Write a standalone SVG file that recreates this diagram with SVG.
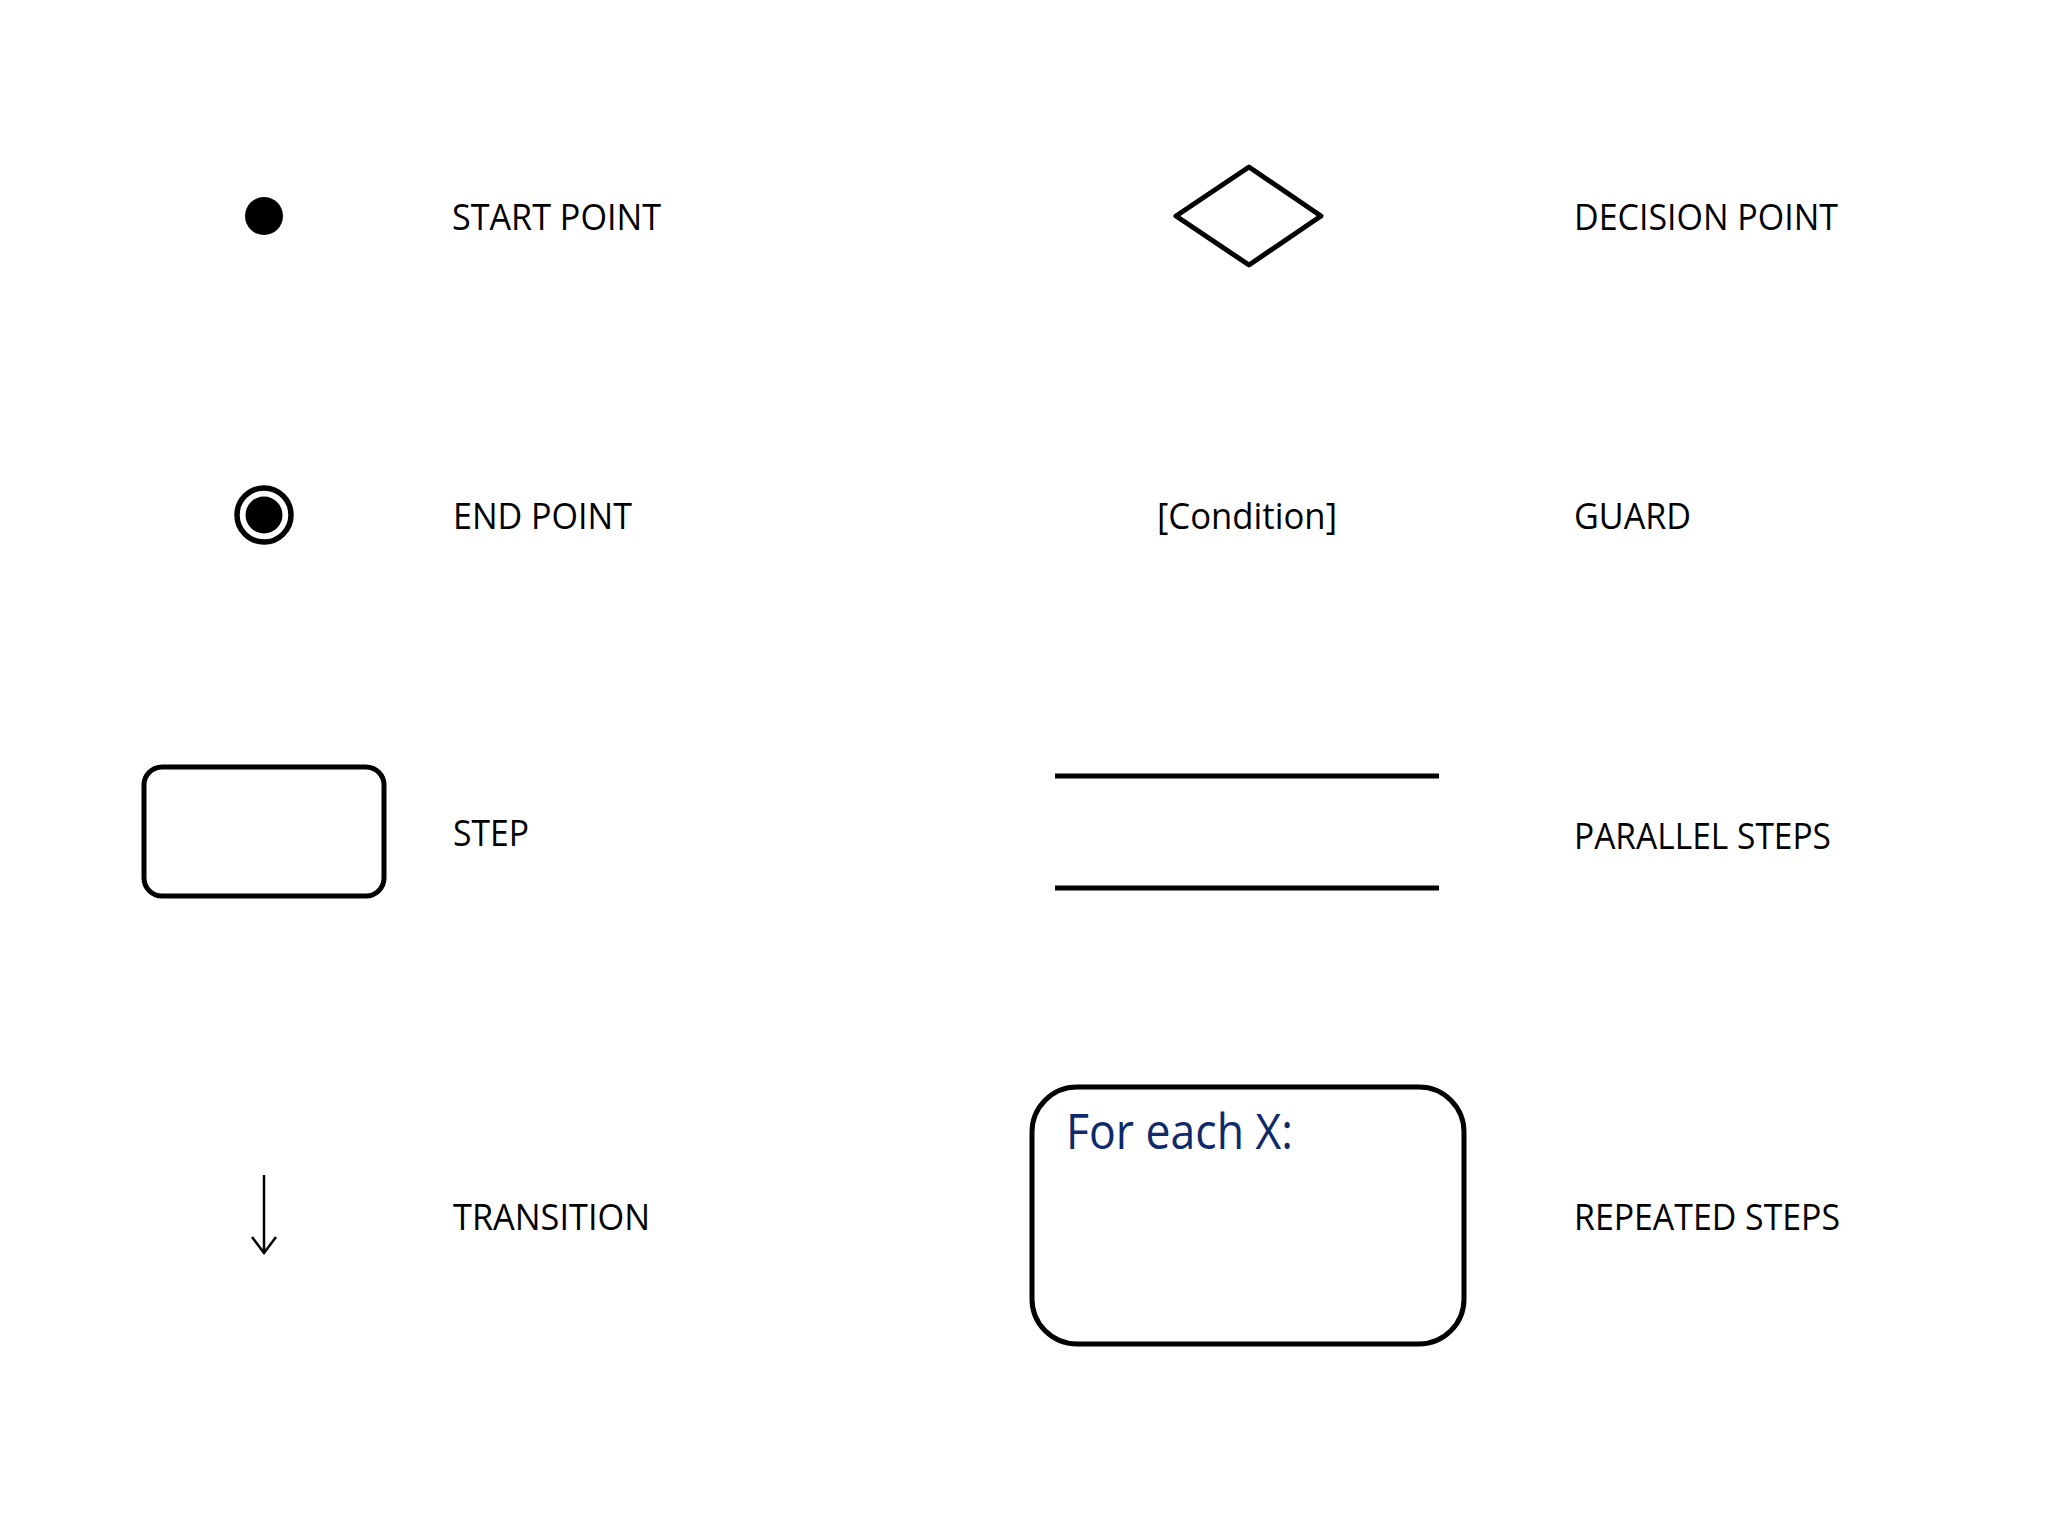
<svg xmlns="http://www.w3.org/2000/svg" width="2048" height="1536" viewBox="0 0 2048 1536">
<style>
.lbl{font-family:"Open Sans","Liberation Sans",sans-serif;font-size:36px;fill:#000}
.shape{fill:none;stroke:#000;stroke-width:5;stroke-linejoin:round}
.loop{font-family:"Open Sans","Liberation Sans",sans-serif;font-size:50px;fill:#0f2a6b}
</style>
<defs>
<marker id="open" viewBox="0 0 20 26" refX="18" refY="13" markerWidth="20" markerHeight="26" markerUnits="userSpaceOnUse" orient="auto">
<path d="M2,1 L18,13 L2,25" fill="none" stroke="#000" stroke-width="2.5"/>
</marker>
</defs>
<rect width="2048" height="1536" fill="#fff"/>
<g id="start"><circle cx="264" cy="216" r="19" fill="#000"/></g>
<g id="end"><circle cx="264" cy="515" r="27" fill="none" stroke="#000" stroke-width="5.5"/><circle cx="264" cy="515" r="18.5" fill="#000"/></g>
<g id="step"><rect x="144" y="767" width="240" height="129" rx="18" class="shape"/></g>
<g id="decision"><polygon points="1176,216 1249,167 1321,216 1249,265" class="shape" stroke-width="4"/></g>
<g id="guard"><text x="1247" y="529" class="lbl" text-anchor="middle" textLength="180" lengthAdjust="spacingAndGlyphs">[Condition]</text></g>
<g id="parallel"><line x1="1055" y1="776" x2="1439" y2="776" stroke="#000" stroke-width="5"/><line x1="1055" y1="888" x2="1439" y2="888" stroke="#000" stroke-width="5"/></g>
<g id="repeated"><rect x="1032" y="1087" width="432" height="257" rx="45" class="shape"/><text x="1066" y="1149" class="loop" textLength="227" lengthAdjust="spacingAndGlyphs">For each X:</text></g>
<g id="connectors"><line x1="264" y1="1175" x2="264" y2="1253" stroke="#000" stroke-width="2.5" marker-end="url(#open)"/></g>
<g id="labels">
<text x="452" y="230" class="lbl" textLength="209" lengthAdjust="spacingAndGlyphs">START POINT</text>
<text x="453" y="529" class="lbl" textLength="179" lengthAdjust="spacingAndGlyphs">END POINT</text>
<text x="453" y="846" class="lbl" textLength="76" lengthAdjust="spacingAndGlyphs">STEP</text>
<text x="453" y="1230" class="lbl" textLength="197" lengthAdjust="spacingAndGlyphs">TRANSITION</text>
<text x="1574" y="230" class="lbl" textLength="264" lengthAdjust="spacingAndGlyphs">DECISION POINT</text>
<text x="1574" y="529" class="lbl" textLength="117" lengthAdjust="spacingAndGlyphs">GUARD</text>
<text x="1574" y="849" class="lbl" textLength="257" lengthAdjust="spacingAndGlyphs">PARALLEL STEPS</text>
<text x="1574" y="1230" class="lbl" textLength="266" lengthAdjust="spacingAndGlyphs">REPEATED STEPS</text>
</g>
</svg>
